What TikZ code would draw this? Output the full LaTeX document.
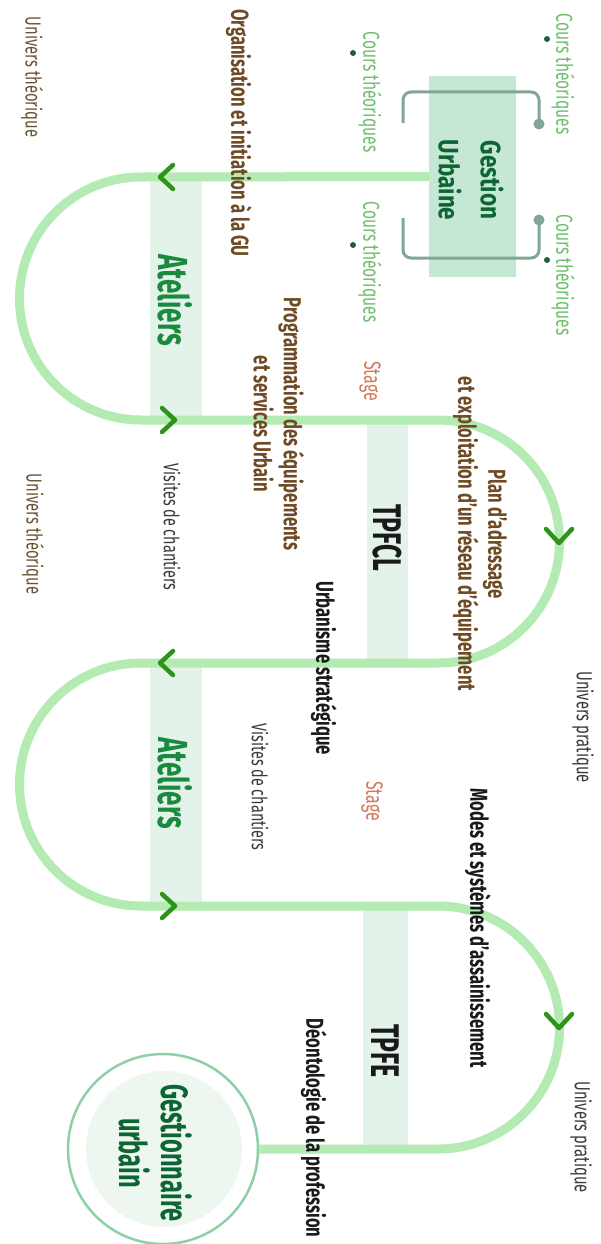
\documentclass[tikz,border=0pt]{standalone}
\usepackage{fontspec}
\setmainfont{Fira Sans}[FakeStretch=0.8]
\newfontfamily\cond{Fira Sans}[FakeStretch=0.68]
\newfontfamily\disp{Fira Sans}[FakeStretch=0.62]
\usetikzlibrary{calc}

\definecolor{trackc}{HTML}{B3EBB2}
\definecolor{chevc}{HTML}{2E9418}
\definecolor{bandc}{HTML}{E3F3EA}
\definecolor{guboxc}{HTML}{C6E7D4}
\definecolor{gutext}{HTML}{0E6534}
\definecolor{atext}{HTML}{1B8A3F}
\definecolor{bracketc}{HTML}{80A696}
\definecolor{coursc}{HTML}{6DBF6B}
\definecolor{dotc}{HTML}{1F5E3B}
\definecolor{brownc}{HTML}{6E4B25}
\definecolor{univc}{HTML}{6A5434}
\definecolor{stagec}{HTML}{D4775B}
\definecolor{darkc}{HTML}{1A1A1A}
\definecolor{grayc}{HTML}{3A3A3A}
\definecolor{circc}{HTML}{8DD0A8}
\definecolor{innerc}{HTML}{EDF7F0}

\tikzset{
  track/.style={draw=trackc, line width=9pt},
  chev/.style={draw=chevc, line width=4.5pt, line cap=round, line join=round},
  bandbox/.style={fill=bandc, draw=none, inner sep=0pt},
  bracket/.style={draw=bracketc, line width=3pt, rounded corners=8pt},
  lab/.style={rotate=-90, inner sep=0pt, align=center},
  cours/.style={lab, text=coursc, font=\cond\fontsize{22.9}{24}\selectfont},
  univ/.style={lab, text=univc, font=\cond\fontsize{21.8}{23}\selectfont},
  topic/.style={lab, font=\cond\bfseries\fontsize{24.5}{30}\selectfont},
  visit/.style={lab, text=grayc, font=\cond\fontsize{21.2}{23}\selectfont},
  stage/.style={lab, text=stagec, font=\cond\fontsize{23.5}{25}\selectfont},
  atel/.style={lab, text=atext, font=\disp\bfseries\fontsize{42}{44}\selectfont},
  tp/.style={lab, text=darkc, font=\disp\bfseries\fontsize{40}{42}\selectfont},
  bullet/.style={circle, fill=dotc, inner sep=0pt, minimum size=6pt}
}

% chevron marks on the track
\newcommand\chevleft[1]{\draw[chev] ($(#1)+(13,-12)$) -- (#1) -- ($(#1)+(13,12)$);}
\newcommand\chevright[1]{\draw[chev] ($(#1)+(-13,-12)$) -- (#1) -- ($(#1)+(-13,12)$);}
\newcommand\chevdown[1]{\draw[chev] ($(#1)+(-13,-14)$) -- (#1) -- ($(#1)+(13,-14)$);}

\begin{document}
\begin{tikzpicture}[x=1pt,y=-1pt]
\useasboundingbox (0,0) rectangle (601,1244);
\fill[white] (0,0) rectangle (601,1244);

% shaded bands behind each stage
\node[bandbox, minimum width=52pt, minimum height=243pt] (bandA1) at (176,298.5) {};
\node[bandbox, minimum width=41pt, minimum height=243pt] (bandT1) at (387.5,541.5) {};
\node[bandbox, minimum width=52pt, minimum height=243pt] (bandA2) at (176,784.5) {};
\node[bandbox, minimum width=45pt, minimum height=243pt] (bandT2) at (385.5,1027.5) {};

% start box and final circle
\node[fill=guboxc, inner sep=0pt, minimum width=87pt, minimum height=201pt] (gu) at (472.5,176.5) {};
\node[circle, draw=circc, line width=2.5pt, fill=white, minimum size=190pt, inner sep=0pt] (goal) at (163,1149) {};
\node[circle, fill=innerc, minimum size=156pt, inner sep=0pt] (goalin) at (164,1149) {};

% the winding track
\draw[track] (gu.west) -- (141,177)
  arc[start angle=90, end angle=270, radius=121.5pt] -- (438,420)
  arc[start angle=90, end angle=-90, radius=121.5pt] -- (141,663)
  arc[start angle=90, end angle=270, radius=121.5pt] -- (438,906)
  arc[start angle=90, end angle=-90, radius=121.5pt] -- (goal.east);

% direction marks
\coordinate (c1) at (160,177);
\coordinate (c2) at (175,420);
\coordinate (c3) at (559,543);
\coordinate (c4) at (160,663);
\coordinate (c5) at (175,906);
\coordinate (c6) at (559,1028);
\chevleft{c1}
\chevright{c2}
\chevdown{c3}
\chevleft{c4}
\chevright{c5}
\chevdown{c6}

% brackets around the start box
\draw[bracket] (403,123) |- (539,92) -- (539,124);
\draw[bracket] (403,218) |- (539,258) -- (539,220);
\fill[bracketc] (539,124) circle (5.5pt);
\fill[bracketc] (539,220) circle (5.5pt);

\node[lab, text=gutext, font=\bfseries\fontsize{28}{42}\selectfont] (gutitle) at (471,180) {Gestion\\Urbaine};

% course labels around the start box
\node[cours] (ct1) at (563,74) {Cours théoriques};
\node[cours] (ct2) at (370,92) {Cours théoriques};
\node[cours] (ct3) at (370,262) {Cours théoriques};
\node[cours] (ct4) at (563,275) {Cours théoriques};
\node[bullet] (b1) at (547,39) {};
\node[bullet] (b2) at (353,53) {};
\node[bullet] (b3) at (353,245) {};
\node[bullet] (b4) at (547,260) {};

% side labels
\node[univ] (ut1) at (32,77) {Univers théorique};
\node[univ] (ut2) at (33,534) {Univers théorique};
\node[univ, text=grayc] (up1) at (583,727) {Univers pratique};
\node[univ, text=grayc] (up2) at (581,1137) {Univers pratique};

% stage titles
\node[atel] (at1) at (175,300) {Ateliers};
\node[atel] (at2) at (175,783) {Ateliers};
\node[tp] (tp1) at (387,538) {TPFCL};
\node[tp] (tp2) at (385,1051) {TPFE};

% topics
\node[topic, text=brownc] (t1) at (239,133) {Organisation et initiation à la GU};
\node[topic, text=brownc] (t2) at (279,424) {Programmation des équipements\\et services Urbain};
\node[topic, text=brownc] (t3) at (480,534) {Plan d’adressage\\et exploitation d’un réseau d’équipement};
\node[topic, text=darkc] (t4) at (324,668) {Urbanisme stratégique};
\node[topic, text=darkc] (t5) at (478,928) {Modes et systèmes d’assainissement};
\node[topic, text=darkc] (t6) at (314,1128) {Déontologie de la profession};

\node[visit] (v1) at (172,527) {Visites de chantiers};
\node[visit] (v2) at (260,787) {Visites de chantiers};
\node[stage] (s1) at (370,381) {Stage};
\node[stage] (s2) at (372,801) {Stage};

\node[lab, text=gutext, font=\disp\bfseries\fontsize{38}{42}\selectfont] (goaltitle) at (156,1153) {Gestionnaire\\urbain};
\end{tikzpicture}
\end{document}
